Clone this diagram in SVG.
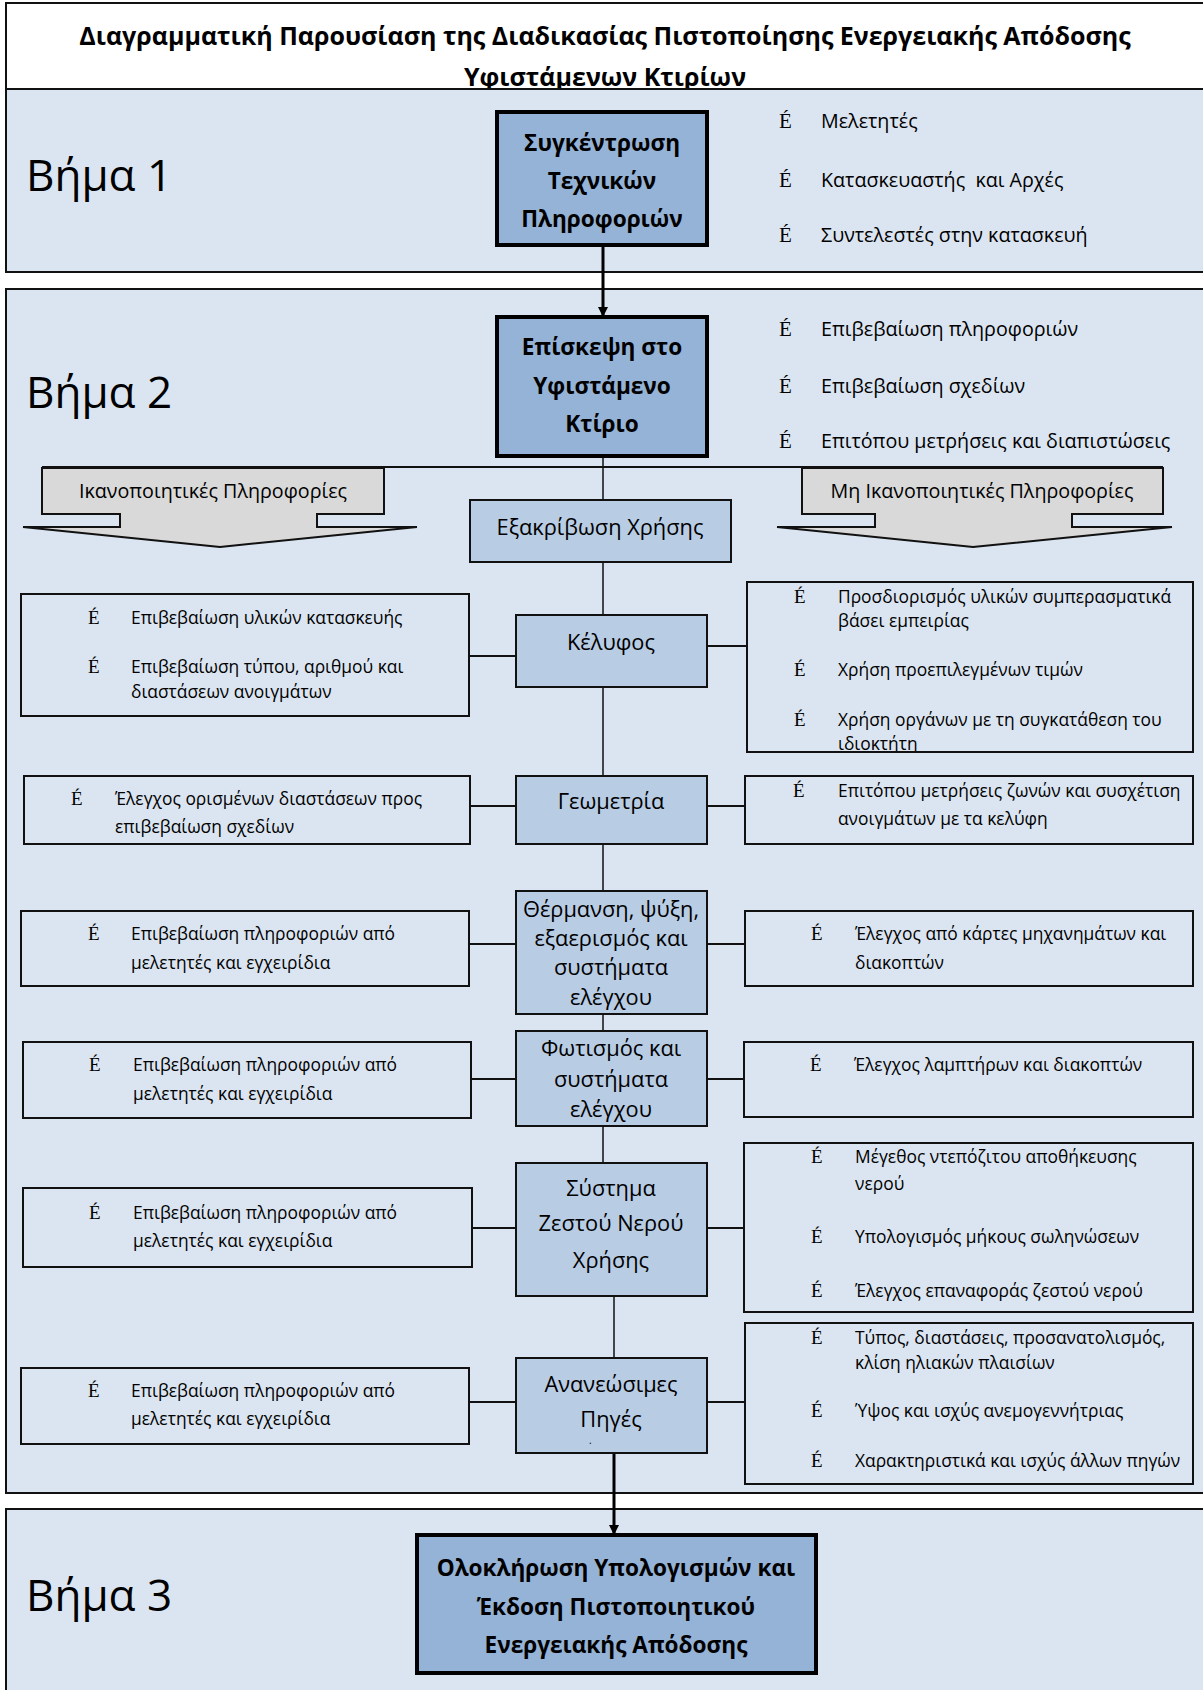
<svg xmlns="http://www.w3.org/2000/svg" width="1203" height="1690" viewBox="0 0 1203 1690">
<defs>
<style>
text{font-family:"Open Sans","Noto Sans","DejaVu Sans",sans-serif;fill:#000}
.title{font-size:25px;font-weight:bold;text-anchor:middle}
.step{font-size:44px}
.band{fill:#dbe5f1;stroke:#111;stroke-width:2}
.main{fill:#95b3d7;stroke:#000;stroke-width:4}
.mt{font-size:22.6px;font-weight:bold;text-anchor:middle}
.sub{fill:#b8cce4;stroke:#111;stroke-width:2}
.st{font-size:21.8px;text-anchor:middle}
.side{fill:#dbe5f1;stroke:#111;stroke-width:2}
.sd{font-size:17.4px}
.bt{font-size:19.7px}
.b{font-family:"Liberation Serif","DejaVu Serif",serif;font-size:21px}
.bs{font-family:"Liberation Serif","DejaVu Serif",serif;font-size:19px}
.co{fill:#d9d9d9;stroke:#111;stroke-width:2}
.ct{font-size:19.7px;text-anchor:middle}
.ln{stroke:#111;stroke-width:1.5;fill:none}
.ls{stroke:#111;stroke-width:2;fill:none}
.la{stroke:#000;stroke-width:3;fill:none}
</style>
<marker id="ah" markerWidth="10" markerHeight="10" refX="9" refY="5" orient="auto" markerUnits="userSpaceOnUse">
<path d="M0,0 L10,5 L0,10 Z" fill="#000"/>
</marker>
<clipPath id="clipK"><rect x="747" y="583" width="446" height="168"/></clipPath>
</defs>

<g id="title">
<rect x="6" y="3" width="1210" height="86" fill="#fff" stroke="#111" stroke-width="2"/>
<text class="title" x="605" y="45">Διαγραμματική Παρουσίαση της Διαδικασίας Πιστοποίησης Ενεργειακής Απόδοσης</text>
<text class="title" x="605" y="86">Υφιστάμενων Κτιρίων</text>
</g>

<g id="band1"><rect class="band" x="6" y="89" width="1210" height="183"/><text class="step" x="26" y="191">Βήμα 1</text></g>
<g id="band2"><rect class="band" x="6" y="289" width="1210" height="1204"/><text class="step" x="26" y="408">Βήμα 2</text></g>
<g id="band3"><rect class="band" x="6" y="1509" width="1210" height="200"/><text class="step" x="26" y="1611">Βήμα 3</text></g>

<g id="connectors">
<line class="la" x1="603" y1="245" x2="603" y2="316" marker-end="url(#ah)"/>
<line class="ln" x1="603" y1="456" x2="603" y2="500"/>
<line class="ls" x1="42" y1="467" x2="1163" y2="467"/>
<line class="ln" x1="603" y1="562" x2="603" y2="615"/>
<line class="ln" x1="603" y1="687" x2="603" y2="776"/>
<line class="ln" x1="603" y1="844" x2="603" y2="891"/>
<line class="ln" x1="603" y1="1014" x2="603" y2="1031"/>
<line class="ln" x1="603" y1="1126" x2="603" y2="1163"/>
<line class="ln" x1="614" y1="1296" x2="614" y2="1358"/>
<line class="la" x1="614" y1="1453" x2="614" y2="1534" marker-end="url(#ah)"/>
<line class="ls" x1="469" y1="656" x2="516" y2="656"/>
<line class="ls" x1="707" y1="646" x2="747" y2="646"/>
<line class="ls" x1="470" y1="806" x2="516" y2="806"/>
<line class="ls" x1="707" y1="806" x2="745" y2="806"/>
<line class="ls" x1="469" y1="944" x2="516" y2="944"/>
<line class="ls" x1="707" y1="944" x2="745" y2="944"/>
<line class="ls" x1="471" y1="1079" x2="516" y2="1079"/>
<line class="ls" x1="707" y1="1079" x2="744" y2="1079"/>
<line class="ls" x1="472" y1="1228" x2="516" y2="1228"/>
<line class="ls" x1="707" y1="1228" x2="744" y2="1228"/>
<line class="ls" x1="469" y1="1402" x2="516" y2="1402"/>
<line class="ls" x1="707" y1="1402" x2="745" y2="1402"/>
</g>

<g id="node1">
<rect class="main" x="497" y="112" width="210" height="133"/>
<text class="mt" x="602" y="151">Συγκέντρωση</text>
<text class="mt" x="602" y="189">Τεχνικών</text>
<text class="mt" x="602" y="227">Πληροφοριών</text>
</g>
<g id="notes1">
<text class="b" x="779" y="128">É</text><text class="bt" x="821" y="128">Μελετητές</text>
<text class="b" x="779" y="187">É</text><text class="bt" x="821" y="187" xml:space="preserve">Κατασκευαστής  και Αρχές</text>
<text class="b" x="779" y="242">É</text><text class="bt" x="821" y="242">Συντελεστές στην κατασκευή</text>
</g>

<g id="node2">
<rect class="main" x="497" y="317" width="210" height="139"/>
<text class="mt" x="602" y="355">Επίσκεψη στο</text>
<text class="mt" x="602" y="394">Υφιστάμενο</text>
<text class="mt" x="602" y="432">Κτίριο</text>
</g>
<g id="notes2">
<text class="b" x="779" y="336">É</text><text class="bt" x="821" y="336">Επιβεβαίωση πληροφοριών</text>
<text class="b" x="779" y="393">É</text><text class="bt" x="821" y="393">Επιβεβαίωση σχεδίων</text>
<text class="b" x="779" y="448">É</text><text class="bt" x="821" y="448">Επιτόπου μετρήσεις και διαπιστώσεις</text>
</g>

<g id="callout-left">
<path class="co" d="M42,468 H384 V514 H317 V527 H417 L220,547 L23,527 H120 V514 H42 Z"/>
<text class="ct" x="213" y="498">Ικανοποιητικές Πληροφορίες</text>
</g>
<g id="callout-right">
<path class="co" d="M802,468 H1163 V514 H1072 V527 H1172 L973,547 L777,527 H875 V514 H802 Z"/>
<text class="ct" x="982" y="498">Μη Ικανοποιητικές Πληροφορίες</text>
</g>

<g id="use">
<rect class="sub" x="470" y="500" width="261" height="62"/>
<text class="st" x="600" y="535">Εξακρίβωση Χρήσης</text>
</g>

<g id="shell">
<rect class="sub" x="516" y="615" width="191" height="72"/>
<text class="st" x="611" y="650">Κέλυφος</text>
</g>
<g id="shell-left">
<rect class="side" x="21" y="594" width="448" height="122"/>
<text class="bs" x="88" y="624">É</text><text class="sd" x="131" y="624">Επιβεβαίωση υλικών κατασκευής</text>
<text class="bs" x="88" y="673">É</text><text class="sd" x="131" y="673">Επιβεβαίωση τύπου, αριθμού και</text>
<text class="sd" x="131" y="698">διαστάσεων ανοιγμάτων</text>
</g>
<g id="shell-right">
<rect class="side" x="747" y="582" width="446" height="170"/>
<g clip-path="url(#clipK)">
<text class="bs" x="794" y="603">É</text><text class="sd" x="838" y="603">Προσδιορισμός υλικών συμπερασματικά</text>
<text class="sd" x="838" y="627">βάσει εμπειρίας</text>
<text class="bs" x="794" y="676">É</text><text class="sd" x="838" y="676">Χρήση προεπιλεγμένων τιμών</text>
<text class="bs" x="794" y="726">É</text><text class="sd" x="838" y="726">Χρήση οργάνων με τη συγκατάθεση του</text>
<text class="sd" x="838" y="750">ιδιοκτήτη</text>
</g>
</g>

<g id="geometry">
<rect class="sub" x="516" y="776" width="191" height="68"/>
<text class="st" x="611" y="809">Γεωμετρία</text>
</g>
<g id="geometry-left">
<rect class="side" x="24" y="776" width="446" height="68"/>
<text class="bs" x="71" y="805">É</text><text class="sd" x="115" y="805">Έλεγχος ορισμένων διαστάσεων προς</text>
<text class="sd" x="115" y="833">επιβεβαίωση σχεδίων</text>
</g>
<g id="geometry-right">
<rect class="side" x="745" y="776" width="448" height="68"/>
<text class="bs" x="793" y="797">É</text><text class="sd" x="838" y="797">Επιτόπου μετρήσεις ζωνών και συσχέτιση</text>
<text class="sd" x="838" y="825">ανοιγμάτων με τα κελύφη</text>
</g>

<g id="hvac">
<rect class="sub" x="516" y="891" width="191" height="123"/>
<text class="st" x="611" y="917">Θέρμανση, ψύξη,</text>
<text class="st" x="611" y="946">εξαερισμός και</text>
<text class="st" x="611" y="975">συστήματα</text>
<text class="st" x="611" y="1005">ελέγχου</text>
</g>
<g id="hvac-left">
<rect class="side" x="21" y="911" width="448" height="75"/>
<text class="bs" x="88" y="940">É</text><text class="sd" x="131" y="940">Επιβεβαίωση πληροφοριών από</text>
<text class="sd" x="131" y="969">μελετητές και εγχειρίδια</text>
</g>
<g id="hvac-right">
<rect class="side" x="745" y="911" width="448" height="75"/>
<text class="bs" x="811" y="940">É</text><text class="sd" x="855" y="940">Έλεγχος από κάρτες μηχανημάτων και</text>
<text class="sd" x="855" y="969">διακοπτών</text>
</g>

<g id="lighting">
<rect class="sub" x="516" y="1031" width="191" height="95"/>
<text class="st" x="611" y="1056">Φωτισμός και</text>
<text class="st" x="611" y="1087">συστήματα</text>
<text class="st" x="611" y="1117">ελέγχου</text>
</g>
<g id="lighting-left">
<rect class="side" x="23" y="1042" width="448" height="76"/>
<text class="bs" x="89" y="1071">É</text><text class="sd" x="133" y="1071">Επιβεβαίωση πληροφοριών από</text>
<text class="sd" x="133" y="1100">μελετητές και εγχειρίδια</text>
</g>
<g id="lighting-right">
<rect class="side" x="744" y="1042" width="449" height="75"/>
<text class="bs" x="810" y="1071">É</text><text class="sd" x="854" y="1071">Έλεγχος λαμπτήρων και διακοπτών</text>
</g>

<g id="dhw">
<rect class="sub" x="516" y="1163" width="191" height="133"/>
<text class="st" x="611" y="1196">Σύστημα</text>
<text class="st" x="611" y="1231">Ζεστού Νερού</text>
<text class="st" x="611" y="1268">Χρήσης</text>
</g>
<g id="dhw-left">
<rect class="side" x="23" y="1188" width="449" height="79"/>
<text class="bs" x="89" y="1219">É</text><text class="sd" x="133" y="1219">Επιβεβαίωση πληροφοριών από</text>
<text class="sd" x="133" y="1247">μελετητές και εγχειρίδια</text>
</g>
<g id="dhw-right">
<rect class="side" x="744" y="1143" width="449" height="169"/>
<text class="bs" x="811" y="1163">É</text><text class="sd" x="855" y="1163">Μέγεθος ντεπόζιτου αποθήκευσης</text>
<text class="sd" x="855" y="1190">νερού</text>
<text class="bs" x="811" y="1243">É</text><text class="sd" x="855" y="1243">Υπολογισμός μήκους σωληνώσεων</text>
<text class="bs" x="811" y="1297">É</text><text class="sd" x="855" y="1297">Έλεγχος επαναφοράς ζεστού νερού</text>
</g>

<g id="renewables">
<rect class="sub" x="516" y="1358" width="191" height="95"/>
<text class="st" x="611" y="1392">Ανανεώσιμες</text>
<text class="st" x="611" y="1427">Πηγές</text>
<text x="589" y="1444" style="font-size:10px">.</text>
</g>
<g id="renewables-left">
<rect class="side" x="21" y="1368" width="448" height="76"/>
<text class="bs" x="88" y="1397">É</text><text class="sd" x="131" y="1397">Επιβεβαίωση πληροφοριών από</text>
<text class="sd" x="131" y="1425">μελετητές και εγχειρίδια</text>
</g>
<g id="renewables-right">
<rect class="side" x="745" y="1323" width="448" height="161"/>
<text class="bs" x="811" y="1344">É</text><text class="sd" x="855" y="1344">Τύπος, διαστάσεις, προσανατολισμός,</text>
<text class="sd" x="855" y="1369">κλίση ηλιακών πλαισίων</text>
<text class="bs" x="811" y="1417">É</text><text class="sd" x="855" y="1417">Ύψος και ισχύς ανεμογεννήτριας</text>
<text class="bs" x="811" y="1467">É</text><text class="sd" x="855" y="1467">Χαρακτηριστικά και ισχύς άλλων πηγών</text>
</g>

<g id="node3">
<rect class="main" x="417" y="1535" width="399" height="138"/>
<text class="mt" x="616" y="1576">Ολοκλήρωση Υπολογισμών και</text>
<text class="mt" x="616" y="1615">Έκδοση Πιστοποιητικού</text>
<text class="mt" x="616" y="1653">Ενεργειακής Απόδοσης</text>
</g>
</svg>
